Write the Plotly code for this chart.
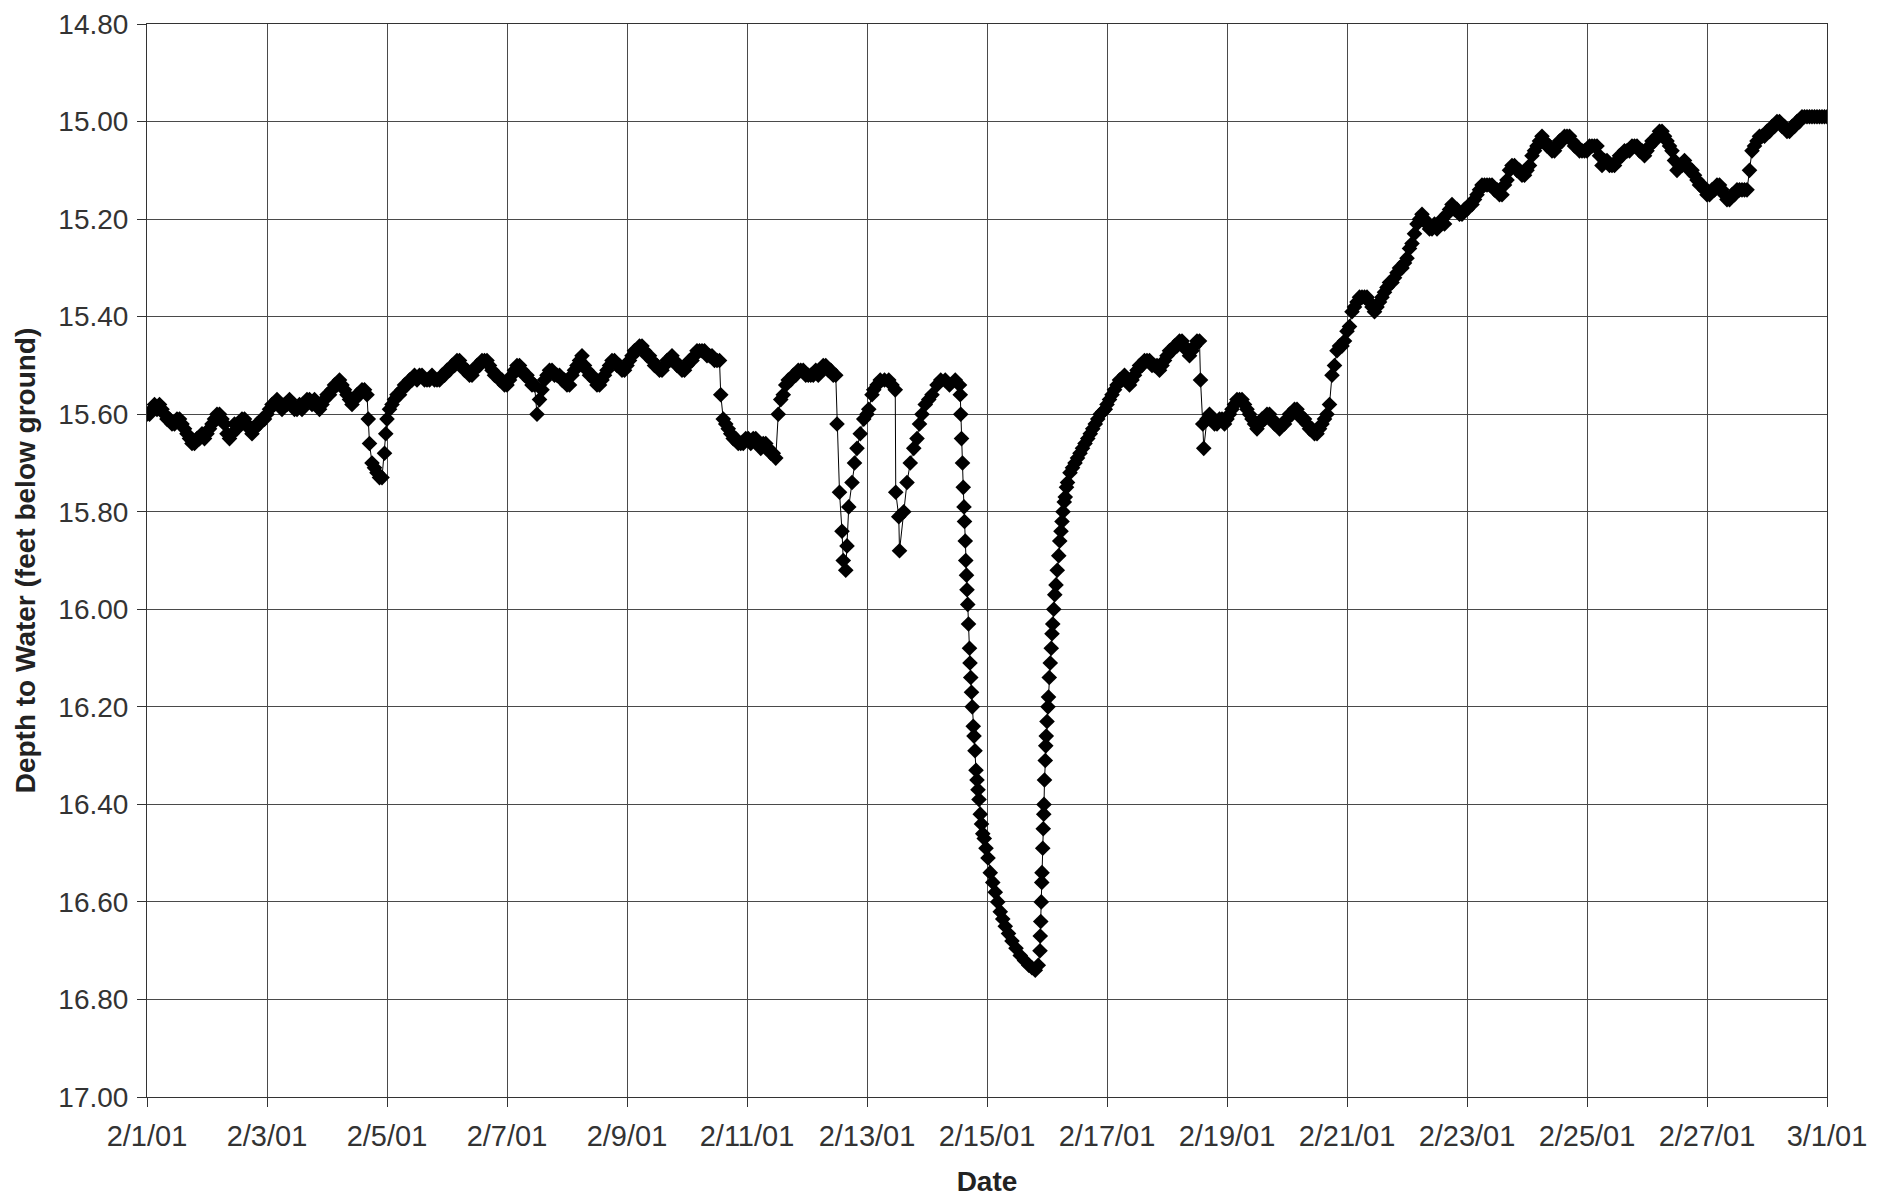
import numpy as np
import pandas as pd
import plotly.graph_objects as go

# Depth to water (ft below ground). Hourly stretches are given by their first hour
# (hours after 2/1/01 00:00); irregular stretches carry their own hours.

HOURLY_1_START = 0
HOURLY_1_DEPTH = [
	15.60, 15.60, 15.59, 15.58, 15.59, 15.58, 15.59, 15.60, 15.61, 15.61,
	15.62, 15.62, 15.61, 15.61, 15.62, 15.63, 15.64, 15.65, 15.66, 15.66,
	15.65, 15.65, 15.64, 15.65, 15.64, 15.63, 15.62, 15.61, 15.60, 15.60,
	15.61, 15.62, 15.64, 15.65, 15.64, 15.62, 15.63, 15.62, 15.61, 15.61,
	15.62, 15.63, 15.64, 15.63, 15.62, 15.62, 15.61, 15.61, 15.60, 15.59,
	15.58, 15.58, 15.57, 15.58, 15.59, 15.58, 15.58, 15.57, 15.58, 15.59,
	15.59, 15.58, 15.59, 15.58, 15.57, 15.57, 15.58, 15.57, 15.58, 15.59,
	15.58, 15.57, 15.56, 15.56, 15.55, 15.54, 15.54, 15.53, 15.54, 15.55,
	15.56, 15.57, 15.58, 15.57, 15.56, 15.56, 15.55, 15.55,
]

DIP_1_HOURS = [88, 88.5, 89, 90, 91, 92, 93, 94, 95, 95.5, 96, 97, 98, 99, 100, 101, 102]
DIP_1_DEPTH = [15.56, 15.61, 15.66, 15.70, 15.71, 15.72, 15.73, 15.73, 15.68, 15.64, 15.61, 15.59, 15.58, 15.57, 15.56, 15.56, 15.55]

HOURLY_2_START = 103
HOURLY_2_DEPTH = [
	15.54, 15.54, 15.53, 15.53, 15.52, 15.53, 15.52, 15.52, 15.53, 15.53,
	15.53, 15.52, 15.53, 15.53, 15.53, 15.52, 15.52, 15.51, 15.51, 15.50,
	15.50, 15.49, 15.49, 15.50, 15.51, 15.51, 15.52, 15.52, 15.51, 15.50,
	15.50, 15.49, 15.49, 15.49, 15.50, 15.51, 15.52, 15.52, 15.53, 15.53,
	15.54, 15.54, 15.53, 15.52, 15.51, 15.50, 15.50, 15.51, 15.52, 15.52,
	15.53, 15.54, 15.54, 15.60, 15.57, 15.55, 15.53, 15.52, 15.51, 15.51,
	15.52, 15.52, 15.52, 15.53, 15.53, 15.54, 15.54, 15.52, 15.51, 15.50,
	15.49, 15.48, 15.50, 15.51, 15.52, 15.52, 15.53, 15.54, 15.54, 15.53,
	15.52, 15.51, 15.50, 15.49, 15.49, 15.50, 15.50, 15.51, 15.51, 15.50,
	15.49, 15.48, 15.47, 15.47, 15.46, 15.46, 15.47, 15.48, 15.48, 15.49,
	15.50, 15.50, 15.51, 15.51, 15.50, 15.49, 15.49, 15.48, 15.49, 15.50,
	15.50, 15.51, 15.51, 15.50, 15.49, 15.49, 15.48, 15.47, 15.47, 15.47,
	15.47, 15.48, 15.48, 15.48, 15.49, 15.49, 15.49,
]

HOURLY_3_START = 229.5
HOURLY_3_DEPTH = [
	15.56, 15.61, 15.62, 15.63, 15.64, 15.65, 15.65, 15.66, 15.66, 15.66,
	15.65, 15.65, 15.66, 15.65, 15.65, 15.66, 15.67, 15.66, 15.66, 15.67,
	15.68, 15.68, 15.69, 15.60, 15.57, 15.56, 15.54, 15.53, 15.53, 15.52,
	15.52, 15.51, 15.51, 15.51, 15.52, 15.52, 15.52, 15.52, 15.51, 15.52,
	15.51, 15.50, 15.50, 15.51, 15.51, 15.52, 15.52,
]

TESTS_HOURS = [
	276, 277, 278, 278.5, 279.5, 280, 280.7, 282, 283, 284,
	285.3, 286.7, 288, 288.7, 290, 290.7, 292, 293.3, 295, 296.7,
	298, 299.3, 299.5, 300.7, 301, 302.7, 304, 305.3, 306.7, 308,
	309, 310, 311.3, 312.7, 314, 316, 317.5, 319.3, 321, 323.3,
	325, 325.3,
]
TESTS_DEPTH = [
	15.62, 15.76, 15.84, 15.90, 15.92, 15.87, 15.79, 15.74, 15.70, 15.67,
	15.64, 15.61, 15.60, 15.59, 15.56, 15.55, 15.54, 15.53, 15.53, 15.53,
	15.54, 15.55, 15.76, 15.81, 15.88, 15.80, 15.74, 15.70, 15.67, 15.65,
	15.62, 15.60, 15.58, 15.57, 15.56, 15.54, 15.53, 15.53, 15.54, 15.53,
	15.54, 15.56,
]

DRAWDOWN_HOURS = [
	325.5, 325.8, 326.2, 326.5, 326.8, 327, 327.3, 327.5, 327.8, 328,
	328.3, 328.6, 329, 329.2, 329.5, 329.8, 330.1, 330.5, 330.8, 331.2,
	331.6, 332, 332.4, 332.8, 333.3, 333.8, 334.3, 334.9, 335.6, 336.4,
	337.3, 338.3, 339.3, 340.3, 341.3, 342.3, 343.3, 344.6, 346, 347.6,
	349.3, 351, 352.7, 354, 355.3,
]
DRAWDOWN_DEPTH = [
	15.60, 15.65, 15.70, 15.75, 15.79, 15.82, 15.86, 15.90, 15.93, 15.96,
	15.99, 16.03, 16.08, 16.11, 16.14, 16.17, 16.20, 16.24, 16.26, 16.29,
	16.33, 16.35, 16.37, 16.39, 16.42, 16.44, 16.46, 16.47, 16.49, 16.51,
	16.54, 16.56, 16.58, 16.60, 16.62, 16.635, 16.65, 16.665, 16.68, 16.695,
	16.71, 16.72, 16.73, 16.735, 16.74,
]

RECOVERY_HOURS = [
	356.5, 357.2, 357.3, 357.5, 357.7, 357.9, 358, 358.3, 358.5, 358.7,
	358.8, 359, 359.3, 359.5, 359.7, 360, 360.4, 360.6, 360.9, 361.3,
	361.7, 362, 362.3, 362.7, 363.1, 363.6, 364.1, 364.7, 365.1, 365.6,
	366, 366.4, 366.9, 367.3, 367.8, 368.2, 369.2, 370.2, 371.2, 372.2,
	373.2, 374.2, 375.2, 376.3, 377.3, 378.3, 379.3, 380.3, 381.3, 382.3,
	383.3,
]
RECOVERY_DEPTH = [
	16.73, 16.70, 16.67, 16.64, 16.60, 16.56, 16.54, 16.49, 16.45, 16.42,
	16.40, 16.35, 16.31, 16.28, 16.26, 16.23, 16.20, 16.18, 16.14, 16.11,
	16.08, 16.05, 16.03, 16.00, 15.97, 15.95, 15.92, 15.89, 15.86, 15.84,
	15.82, 15.80, 15.78, 15.77, 15.75, 15.74, 15.72, 15.71, 15.70, 15.69,
	15.68, 15.67, 15.66, 15.65, 15.64, 15.63, 15.62, 15.61, 15.60, 15.595,
	15.59,
]

HOURLY_4_START = 384
HOURLY_4_DEPTH = [
	15.58, 15.57, 15.56, 15.55, 15.54, 15.53, 15.53, 15.52, 15.53, 15.54,
	15.53, 15.52, 15.51, 15.50, 15.50, 15.49, 15.49, 15.49, 15.50, 15.50,
	15.50, 15.51, 15.50, 15.49, 15.48, 15.47, 15.47, 15.46, 15.46, 15.45,
	15.45, 15.46, 15.47, 15.48, 15.47, 15.46, 15.45, 15.45,
]

DIP_2_HOURS = [421.4, 422.3, 422.7]
DIP_2_DEPTH = [15.53, 15.62, 15.67]

HOURLY_5_START = 424
HOURLY_5_DEPTH = [
	15.61, 15.60, 15.61, 15.62, 15.62, 15.61, 15.61, 15.62, 15.61, 15.60,
	15.59, 15.58, 15.57, 15.57, 15.57, 15.58, 15.59, 15.60, 15.61, 15.62,
	15.63, 15.62, 15.61, 15.61, 15.60, 15.60, 15.61, 15.62, 15.62, 15.63,
	15.62, 15.62, 15.61, 15.60, 15.60, 15.59, 15.59, 15.60, 15.61, 15.61,
	15.62, 15.63, 15.63, 15.64, 15.64, 15.63, 15.62, 15.61, 15.60, 15.58,
	15.52, 15.50, 15.47, 15.46, 15.46, 15.45, 15.43, 15.42, 15.39, 15.38,
	15.37, 15.36, 15.36, 15.36, 15.36, 15.37, 15.38, 15.39, 15.38, 15.37,
	15.36, 15.35, 15.34, 15.33, 15.33, 15.32, 15.31, 15.30, 15.30, 15.29,
	15.28, 15.26, 15.25, 15.23, 15.21, 15.20, 15.19, 15.20, 15.21, 15.22,
	15.22, 15.21, 15.22, 15.21, 15.20, 15.21, 15.19, 15.18, 15.17, 15.18,
	15.18, 15.19, 15.19, 15.18, 15.18, 15.17, 15.17, 15.16, 15.15, 15.14,
	15.13, 15.13, 15.13, 15.13, 15.13, 15.14, 15.14, 15.15, 15.15, 15.13,
	15.12, 15.10, 15.09, 15.09, 15.10, 15.10, 15.11, 15.11, 15.10, 15.09,
	15.07, 15.06, 15.05, 15.04, 15.03, 15.04, 15.05, 15.05, 15.06, 15.06,
	15.05, 15.04, 15.04, 15.03, 15.03, 15.03, 15.04, 15.05, 15.05, 15.06,
	15.06, 15.06, 15.06, 15.05, 15.05, 15.05, 15.05, 15.07, 15.09, 15.08,
	15.08, 15.09, 15.09, 15.09, 15.08, 15.07, 15.07, 15.06, 15.06, 15.06,
	15.05, 15.05, 15.05, 15.06, 15.06, 15.07, 15.06, 15.05, 15.04, 15.04,
	15.03, 15.02, 15.02, 15.03, 15.04, 15.05, 15.06, 15.08, 15.10, 15.09,
	15.09, 15.08, 15.09, 15.10, 15.10, 15.11, 15.12, 15.13, 15.13, 15.14,
	15.15, 15.15, 15.14, 15.14, 15.13, 15.13, 15.14, 15.15, 15.16, 15.16,
	15.15, 15.15, 15.14, 15.14, 15.14, 15.14, 15.14, 15.10, 15.06, 15.05,
	15.04, 15.03, 15.03, 15.03, 15.02, 15.02, 15.01, 15.01, 15.00, 15.00,
	15.01, 15.01, 15.02, 15.02, 15.01, 15.01, 15.00, 15.00, 14.99, 14.99,
	14.99, 14.99, 14.99, 14.99, 14.99, 14.99, 14.99, 14.99, 14.99,
]

TICK_DATES = ["2001-02-01", "2001-02-03", "2001-02-05", "2001-02-07", "2001-02-09", "2001-02-11", "2001-02-13", "2001-02-15",
	"2001-02-17", "2001-02-19", "2001-02-21", "2001-02-23", "2001-02-25", "2001-02-27", "2001-03-01"]
TICK_LABELS = ["2/1/01", "2/3/01", "2/5/01", "2/7/01", "2/9/01", "2/11/01", "2/13/01", "2/15/01",
	"2/17/01", "2/19/01", "2/21/01", "2/23/01", "2/25/01", "2/27/01", "3/1/01"]

Y_TICKS = [14.8, 15.0, 15.2, 15.4, 15.6, 15.8, 16.0, 16.2, 16.4, 16.6, 16.8, 17.0]


def hourly(start, depth):
	return pd.DataFrame({"hours": start + np.arange(len(depth)), "depth": depth})


def irregular(hours, depth):
	return pd.DataFrame({"hours": hours, "depth": depth})


df = pd.concat([
	hourly(HOURLY_1_START, HOURLY_1_DEPTH),
	irregular(DIP_1_HOURS, DIP_1_DEPTH),
	hourly(HOURLY_2_START, HOURLY_2_DEPTH),
	hourly(HOURLY_3_START, HOURLY_3_DEPTH),
	irregular(TESTS_HOURS, TESTS_DEPTH),
	irregular(DRAWDOWN_HOURS, DRAWDOWN_DEPTH),
	irregular(RECOVERY_HOURS, RECOVERY_DEPTH),
	hourly(HOURLY_4_START, HOURLY_4_DEPTH),
	irregular(DIP_2_HOURS, DIP_2_DEPTH),
	hourly(HOURLY_5_START, HOURLY_5_DEPTH),
], ignore_index = True)
df["date"] = pd.Timestamp("2001-02-01") + pd.to_timedelta(df["hours"], unit = "h")

FONT = "Liberation Sans, Arial, sans-serif"

fig = go.Figure()
fig.add_trace(go.Scatter(
	x = df["date"],
	y = df["depth"],
	mode = "lines+markers",
	line = dict(color = "black", width = 1),
	marker = dict(symbol = "diamond", size = 12, color = "black"),
	showlegend = False,
))

# the page body adds an 8px offset, so margins are trimmed by that much;
# the top keeps enough room for the 14.80 label
fig.update_layout(
	width = 1885,
	height = 1199,
	margin = dict(l = 139, r = 66, t = 16, b = 110),
	paper_bgcolor = "white",
	plot_bgcolor = "white",
	font = dict(family = FONT, size = 28, color = "#333333"),
)

fig.update_xaxes(
	type = "date",
	range = ["2001-02-01", "2001-03-01"],
	tickvals = TICK_DATES,
	ticktext = TICK_LABELS,
	tickfont = dict(size = 29),
	showgrid = True,
	gridcolor = "#4a4a4a",
	gridwidth = 1,
	showline = True,
	linecolor = "#333333",
	linewidth = 1,
	mirror = True,
	ticks = "outside",
	ticklen = 9,
	tickcolor = "#333333",
	ticklabelstandoff = 4,
	ticklabeloverflow = "allow",
	zeroline = False,
	automargin = False,
	title = dict(text = "<b>Date</b>", font = dict(size = 28, color = "#222222"), standoff = 20),
)

fig.update_yaxes(
	range = [17.0, 14.7999],
	tickvals = Y_TICKS,
	tickformat = ".2f",
	showgrid = True,
	gridcolor = "#4a4a4a",
	gridwidth = 1,
	showline = True,
	linecolor = "#333333",
	linewidth = 1,
	mirror = True,
	ticks = "outside",
	ticklen = 9,
	tickcolor = "#333333",
	ticklabelstandoff = 3,
	ticklabeloverflow = "allow",
	zeroline = False,
	automargin = False,
	title = dict(text = "<b>Depth to Water (feet below ground)</b>", font = dict(size = 28, color = "#222222"), standoff = 14),
)

fig.write_html("out.html")
